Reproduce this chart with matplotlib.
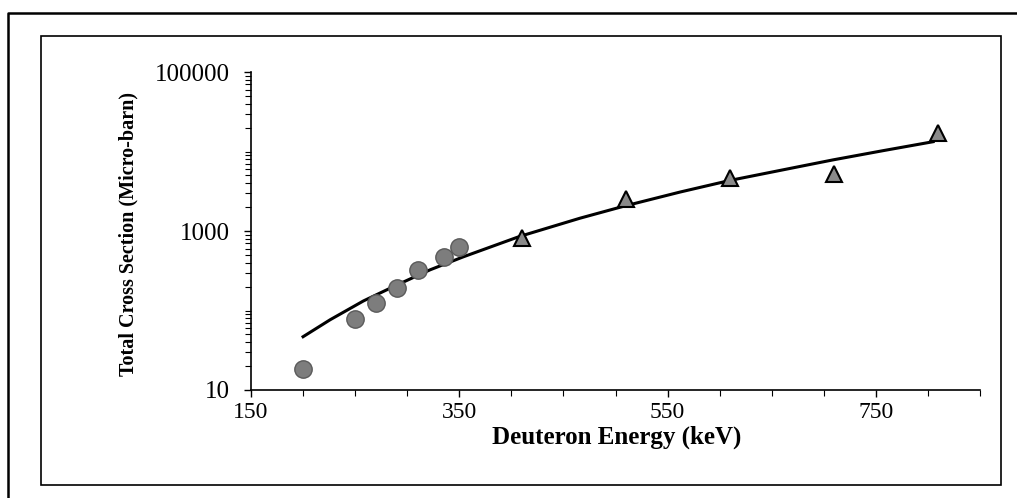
import matplotlib
matplotlib.use('Agg')
import matplotlib.pyplot as plt
from matplotlib.ticker import FixedLocator, LogLocator, NullFormatter
from matplotlib.lines import Line2D
from matplotlib.patches import Rectangle

# data
circle_energy = [200, 250, 270, 290, 310, 335, 350]
circle_sigma = [18.2, 79, 125, 194, 323, 475, 636]

tri_energy = [410, 510, 610, 710, 810]
tri_sigma = [809, 2530, 4600, 5210, 16950]

# trendline
fit_energy = [200, 226, 258, 290, 322, 354, 408, 466, 508, 562, 610, 677, 709, 757, 805]
fit_sigma = [46.8, 76.5, 132, 209, 325, 474, 855, 1450, 2050, 3090, 4330, 6480, 7850, 10250, 13280]

x_major = [150, 350, 550, 750]
y_major = [10, 1000, 100000]

W, H = 1017, 498
fig = plt.figure(figsize=(W / 100, H / 100), dpi=100)
plt.rcParams['font.family'] = ['Liberation Serif', 'DejaVu Serif']

ax = fig.add_axes([251 / W, 1 - 390 / H, 729 / W, 318 / H])

ax.plot(fit_energy, fit_sigma, color='black', lw=2.2, zorder=2)
ax.plot(circle_energy, circle_sigma, 'o', ms=12.5, mfc='#7d7d7d', mec='#5a5a5a', mew=1, zorder=3)
ax.plot(tri_energy, tri_sigma, '^', ms=12, mfc='#8a8a8a', mec='black', mew=1.5, zorder=3)

ax.set_yscale('log')
ax.set_xlim(150, 850)
ax.set_ylim(10, 100000)

ax.xaxis.set_major_locator(FixedLocator(x_major))
ax.xaxis.set_minor_locator(FixedLocator(range(150, 851, 50)))
ax.yaxis.set_major_locator(FixedLocator(y_major))
ax.yaxis.set_minor_locator(LogLocator(base=10, subs=range(1, 10), numticks=20))
ax.yaxis.set_minor_formatter(NullFormatter())
ax.set_yticklabels([str(v) for v in y_major])

ax.tick_params(axis='both', which='major', direction='out', length=5, width=1, colors='black')
ax.tick_params(axis='x', which='major', pad=4, labelsize=17)
ax.tick_params(axis='y', which='major', pad=10, labelsize=18)
ax.tick_params(axis='both', which='minor', direction='out', length=4, width=0.8)

for side in ['top', 'right']:
    ax.spines[side].set_visible(False)
for side in ['left', 'bottom']:
    ax.spines[side].set_linewidth(1.2)

fig.text(617 / W, 1 - 437 / H, 'Deuteron Energy (keV)', ha='center', va='center',
         fontsize=18, fontweight='bold')
fig.text(128 / W, 1 - 234 / H, 'Total Cross Section (Micro-barn)', ha='center', va='center',
         rotation=90, fontsize=14.5, fontweight='bold')

# inner chart frame and outer page border
fig.patches.append(Rectangle((41 / W, 1 - 485 / H), 960 / W, 449 / H, transform=fig.transFigure,
                             fill=False, edgecolor='black', lw=1.2))
fig.lines.append(Line2D([8 / W, 8 / W, 1.0], [0.0, 1 - 13 / H, 1 - 13 / H],
                        transform=fig.transFigure, color='black', lw=1.8))

fig.savefig('out.png', dpi=100)
